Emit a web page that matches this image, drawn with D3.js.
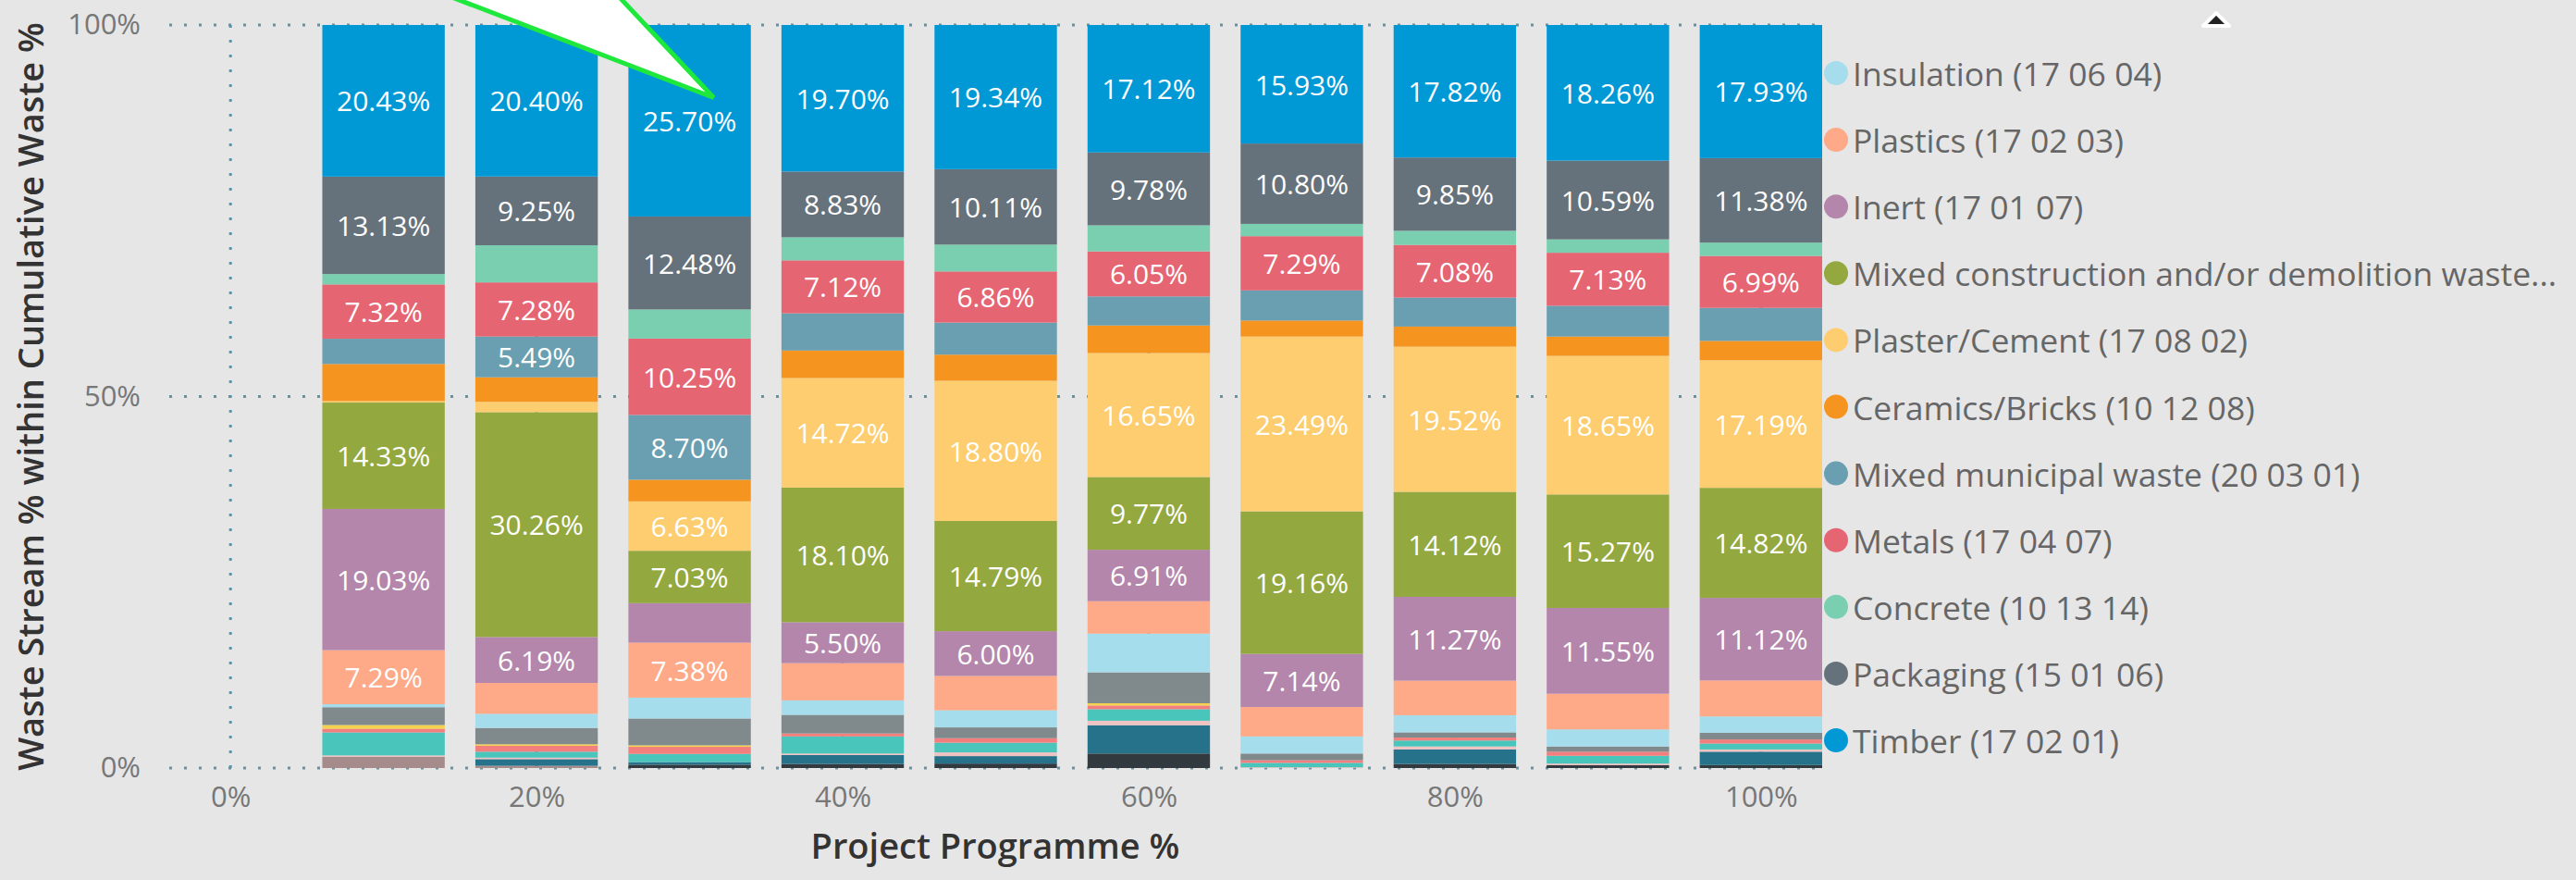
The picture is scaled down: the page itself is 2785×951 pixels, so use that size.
<!DOCTYPE html>
<html><head><meta charset="utf-8">
<script src="https://cdn.jsdelivr.net/npm/d3@7"></script>
<style>
html,body{margin:0;padding:0;background:#e6e6e6;}
svg{display:block;}
</style></head><body>
<svg id="chart" width="2785" height="951"></svg>
<script>
// ---------- DATA ----------
const programmePct = [10, 20, 30, 40, 50, 60, 70, 80, 90, 100];
const xTickValues = [0, 20, 40, 60, 80, 100];
const yTickValues = [0, 0.5, 1];

// visible legend series (values in % of the cumulative waste per bar)
const timber      = [20.43, 20.40, 25.70, 19.70, 19.34, 17.12, 15.93, 17.82, 18.26, 17.93];
const packaging   = [13.13,  9.25, 12.48,  8.83, 10.11,  9.78, 10.80,  9.85, 10.59, 11.38];
const concrete    = [ 1.40,  5.00,  3.90,  3.10,  3.60,  3.50,  1.65,  1.90,  1.80,  1.80];
const metals      = [ 7.32,  7.28, 10.25,  7.12,  6.86,  6.05,  7.29,  7.08,  7.13,  6.99];
const mixedMunicipal = [3.40, 5.49, 8.70, 5.00,  4.30,  3.90,  4.05,  3.90,  4.15,  4.45];
const ceramics    = [ 5.00,  3.30,  2.90,  3.70,  3.50,  3.70,  2.15,  2.70,  2.60,  2.60];
const plaster     = [ 0.20,  1.40,  6.63, 14.72, 18.80, 16.65, 23.49, 19.52, 18.65, 17.19];
const mixedCD     = [14.33, 30.26,  7.03, 18.10, 14.79,  9.77, 19.16, 14.12, 15.27, 14.82];
const inert       = [19.03,  6.19,  5.30,  5.50,  6.00,  6.91,  7.14, 11.27, 11.55, 11.12];
const plastics    = [ 7.29,  4.15,  7.38,  5.00,  4.60,  4.35,  3.95,  4.65,  4.80,  4.85];
const insulation  = [ 0.40,  1.90,  2.80,  1.95,  2.30,  5.20,  2.30,  2.30,  2.30,  2.20];
// further streams whose legend entries are scrolled out of view (legend shows its lower part)
const otherA = [2.40, 2.20, 3.60, 2.50, 1.45, 4.15, 0.90, 0.70, 0.70, 0.90];
const otherB = [0.50, 0.20, 0.20, 0.00, 0.00, 0.30, 0.00, 0.00, 0.00, 0.00];
const otherC = [0.50, 0.80, 0.95, 0.40, 0.60, 0.50, 0.35, 0.40, 0.55, 0.55];
const otherD = [3.10, 0.80, 1.10, 2.30, 1.30, 1.55, 0.60, 0.80, 1.05, 0.80];
const otherE = [0.20, 0.20, 0.00, 0.20, 0.50, 0.60, 0.10, 0.40, 0.20, 0.30];
const otherF = [0.00, 0.90, 0.35, 1.20, 1.00, 3.80, 0.00, 1.95, 0.00, 1.80];
const otherG = [0.00, 0.00, 0.45, 0.55, 0.60, 1.95, 0.00, 0.55, 0.40, 0.40];
const otherH = [1.50, 0.30, 0.00, 0.00, 0.00, 0.00, 0.00, 0.00, 0.00, 0.00];

// stack order, bottom first
const seriesKeys = ["otherH","otherG","otherF","otherE","otherD","otherC","otherB","otherA",
  "insulation","plastics","inert","mixedCD","plaster","ceramics","mixedMunicipal","metals","concrete","packaging","timber"];
const seriesValues = {otherH, otherG, otherF, otherE, otherD, otherC, otherB, otherA,
  insulation, plastics, inert, mixedCD, plaster, ceramics, mixedMunicipal, metals, concrete, packaging, timber};
// legend (visible part), in legend order
const legendKeys = ["insulation","plastics","inert","mixedCD","plaster","ceramics","mixedMunicipal","metals","concrete","packaging","timber"];
const legendLabels = ["Insulation (17 06 04)","Plastics (17 02 03)","Inert (17 01 07)",
  "Mixed construction and/or demolition waste...","Plaster/Cement (17 08 02)","Ceramics/Bricks (10 12 08)",
  "Mixed municipal waste (20 03 01)","Metals (17 04 07)","Concrete (10 13 14)","Packaging (15 01 06)","Timber (17 02 01)"];

// ---------- STYLE ----------
const seriesColors = {
  timber:"#0099d6", packaging:"#66727b", concrete:"#7acfb0", metals:"#e56573", mixedMunicipal:"#6a9fb1",
  ceramics:"#f5951f", plaster:"#fdcd6f", mixedCD:"#93a83f", inert:"#b486ab", plastics:"#fea987",
  insulation:"#a6dded", otherA:"#808a8c", otherB:"#f5d24b", otherC:"#f27f7d", otherD:"#49c5bb",
  otherE:"#f0c3c3", otherF:"#26728a", otherG:"#323a40", otherH:"#a68b8b"
};
const W = 2785, H = 951;
const plot = {left:183, right:1970, top:27, bottom:830};
const FONT = "'Segoe UI','Open Sans','Noto Sans',sans-serif";
const labelThreshold = 5.4;

// ---------- BUILD ----------
const svg = d3.select("#chart");
svg.append("rect").attr("width", W).attr("height", H).attr("fill", "#e6e6e6");

const rows = programmePct.map((p, i) => {
  const r = {pct: p};
  seriesKeys.forEach(k => r[k] = seriesValues[k][i]);
  return r;
});
const stacked = d3.stack().keys(seriesKeys).offset(d3.stackOffsetExpand)(rows);

const x = d3.scaleLinear().domain([-4, 104]).range([plot.left, plot.right]);
const y = d3.scaleLinear().domain([0, 1]).range([plot.bottom, plot.top]);
const barHalf = 4; // bar spans +/-4 % of programme around its position

// gridlines (dotted)
const grid = svg.append("g");
grid.selectAll("line.h").data(yTickValues).join("line")
  .attr("x1", x(-4)).attr("x2", x(104))
  .attr("y1", d => y(d)).attr("y2", d => y(d))
  .attr("stroke", "#5f93a6").attr("stroke-width", 3).attr("stroke-dasharray", "3 13");
grid.selectAll("line.v").data(xTickValues).join("line")
  .attr("x1", d => x(d)).attr("x2", d => x(d))
  .attr("y1", y(1)).attr("y2", y(0))
  .attr("stroke", "#5f93a6").attr("stroke-width", 3).attr("stroke-dasharray", "3 13");

// bars
const layers = svg.append("g").selectAll("g").data(stacked).join("g")
  .attr("fill", d => seriesColors[d.key]);
layers.selectAll("rect").data(d => d).join("rect")
  .attr("x", d => x(d.data.pct - barHalf))
  .attr("width", x(2 * barHalf) - x(0))
  .attr("y", d => y(d[1]))
  .attr("height", d => Math.max(0, y(d[0]) - y(d[1])));

// data labels
const labelData = [];
stacked.forEach(layer => layer.forEach(d => {
  const v = d.data[layer.key];
  if (v >= labelThreshold) labelData.push({pct: d.data.pct, v, mid: (d[0] + d[1]) / 2, key: layer.key});
}));
svg.append("g").selectAll("text").data(labelData).join("text")
  .attr("x", d => x(d.pct)).attr("y", d => y(d.mid))
  .attr("text-anchor", "middle").attr("dominant-baseline", "central")
  .attr("font-family", FONT).attr("font-size", 30).attr("fill", "#ffffff")
  .text(d => d.v.toFixed(2) + "%");

// axes
const yAxis = svg.append("g").attr("transform", `translate(${plot.left},0)`)
  .call(d3.axisLeft(y).tickValues(yTickValues).tickFormat(d3.format(".0%")).tickSize(0).tickPadding(31));
const xAxis = svg.append("g").attr("transform", `translate(0,${plot.bottom})`)
  .call(d3.axisBottom(x).tickValues(xTickValues).tickFormat(d => d + "%").tickSize(0).tickPadding(20));
[yAxis, xAxis].forEach(a => {
  a.select(".domain").remove();
  a.selectAll("text").attr("font-family", FONT).attr("font-size", 31).attr("fill", "#777777");
});

// axis titles
svg.append("text")
  .attr("transform", `translate(47,${(plot.top + plot.bottom) / 2}) rotate(-90)`)
  .attr("text-anchor", "middle").attr("font-family", FONT).attr("font-size", 38).attr("font-weight", 600)
  .attr("fill", "#333333").text("Waste Stream % within Cumulative Waste %");
svg.append("text")
  .attr("x", 1076).attr("y", 928)
  .attr("text-anchor", "middle").attr("font-family", FONT).attr("font-size", 38).attr("font-weight", 600)
  .attr("fill", "#333333").text("Project Programme %");

// legend
const legend = svg.append("g").attr("transform", "translate(1985,79)");
const li = legend.selectAll("g").data(legendKeys).join("g")
  .attr("transform", (d, i) => `translate(0,${i * 72.1})`);
li.append("circle").attr("r", 13).attr("fill", d => seriesColors[d]);
li.append("text").attr("x", 18).attr("dominant-baseline", "central")
  .attr("font-family", FONT).attr("font-size", 35.5).attr("fill", "#666666")
  .text((d, i) => legendLabels[i]);

// legend scroll arrow
svg.append("path").attr("transform", "translate(2396,21)")
  .attr("d", "M-14,7 L0,-7 L14,7 Z").attr("fill", "#222").attr("stroke", "#ffffff").attr("stroke-width", 4)
  .attr("stroke-linejoin", "round");

// callout pointer towards the 25.70% label
const callTarget = labelData.find(d => d.key === "timber" && d.pct === 30);
const tip = [x(callTarget.pct) + 26, y(callTarget.mid) - 25];
svg.append("path")
  .attr("d", `M${tip[0] - 300},${tip[1] - 115} L${tip[0]},${tip[1]} L${tip[0] - 108},${tip[1] - 115}`)
  .attr("fill", "#ffffff").attr("stroke", "#1ee83c").attr("stroke-width", 5).attr("stroke-linejoin", "miter");
</script>
</body></html>
